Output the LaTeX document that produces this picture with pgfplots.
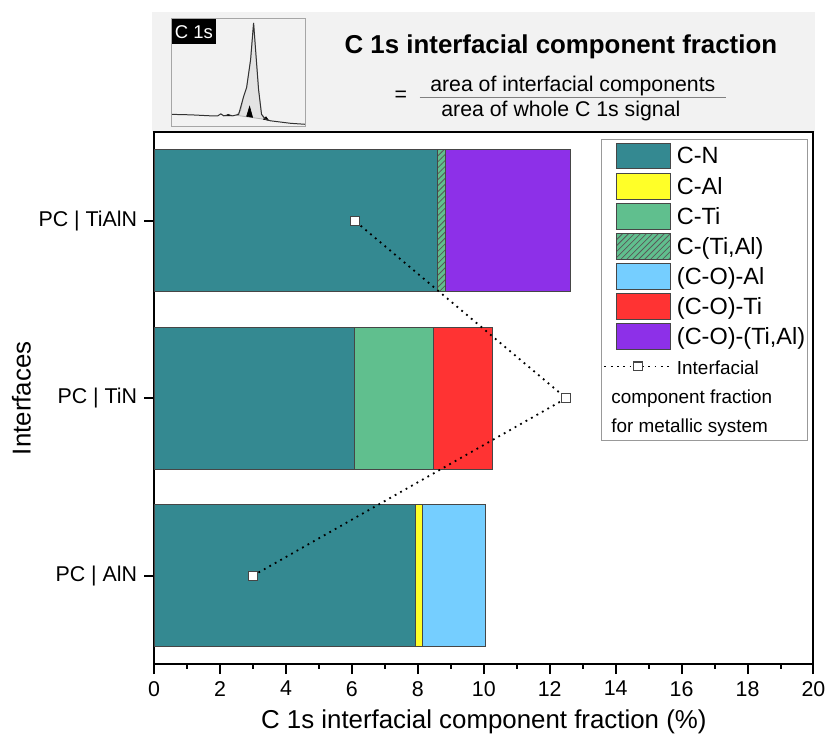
\documentclass[border=0pt]{standalone}
\usepackage{fontspec}
\setmainfont{Liberation Sans}
\usepackage{pgfplots}
\pgfplotsset{compat=1.18}
\usetikzlibrary{patterns}

\definecolor{cnTeal}{RGB}{52,137,145}
\definecolor{calYellow}{RGB}{255,255,40}
\definecolor{ctiGreen}{RGB}{96,191,142}
\definecolor{coalBlue}{RGB}{117,206,255}
\definecolor{cotiRed}{RGB}{255,51,51}
\definecolor{cotialPurple}{RGB}{141,48,232}
\definecolor{headerGray}{RGB}{242,242,242}
\definecolor{barEdge}{RGB}{70,70,70}

\pgfplotsset{
  patch legend/.style={legend image code/.code={%
    \draw[##1] (0pt,-6.5pt) rectangle (27pt,6.5pt);}},
  dotline legend/.style={legend image code/.code={%
    \draw[##1, mark repeat=2, mark phase=2]
      plot coordinates {(-6pt,0pt) (11pt,0pt) (27.5pt,0pt)};}},
  component bar/.style={fill=#1, draw=barEdge, line width=0.5pt, patch legend},
}
\newcommand{\smalllegend}{\fontsize{9.5}{11}\selectfont}

\begin{document}
\begin{tikzpicture}
% header panel, laid out in pixel-like units relative to the main axis
\begin{scope}[x=0.5pt, y=-0.5pt, shift={(-155,-668)}]
  \path (0,0) rectangle (832,747);
  \fill[headerGray] (153,12) rectangle (820,133);
  \node[font=\fontsize{13}{15}\selectfont\bfseries, anchor=base] at (564,53.5) {C 1s interfacial component fraction};
  \node[font=\fontsize{10.7}{12}\selectfont, anchor=base] at (403,102) {=};
  \node[font=\fontsize{10.7}{12}\selectfont, anchor=base] at (576,92) {area of interfacial components};
  \draw[gray, line width=0.6pt] (422,97.7) -- (730,97.7);
  \node[font=\fontsize{10.7}{12}\selectfont, anchor=base] at (564,117) {area of whole C 1s signal};
\end{scope}

% small C 1s spectrum sketch
\begin{axis}[
  at={(8.5pt,270.5pt)}, anchor=south west,
  scale only axis, width=67.5pt, height=54pt,
  xmin=0, xmax=135, ymin=0, ymax=108,
  ticks=none, clip=false, axis on top,
  axis line style={draw=gray!70, line width=0.5pt},
]
\addplot[fill=gray!22, draw=gray!60, line width=0.4pt] coordinates {
  (66,11) (70,16) (73,30) (76,39) (80,67) (83,104) (85,77) (88,37) (91,12) (94,7)} -- cycle;
\addplot[fill=black, draw=black, line width=0.3pt] coordinates {(76,10) (79,20) (82,9)} -- cycle;
\addplot[fill=black, draw=black, line width=0.3pt] coordinates {(93,7) (95.5,9.5) (98,6)} -- cycle;
\addplot[fill=black, draw=black, line width=0.3pt] coordinates {(55,10.5) (57.5,12) (60,10.5)} -- cycle;
\addplot[draw=gray!40!black, line width=0.5pt] coordinates {
  (0,12) (20,11.5) (40,10.5) (47,10.5) (50,12.5) (53,10.5) (58,11.5) (62,10.5)
  (68,12) (73,30) (76,39) (80,67) (83,104) (85,77) (88,37) (91,12) (95,7)
  (100,5.5) (120,3) (135,2)};
\node[fill=black, text=white, anchor=north west, inner sep=0pt,
      minimum width=22.5pt, minimum height=12.5pt,
      font=\fontsize{9.3}{10}\selectfont] at (rel axis cs:0,1) {C 1s};
\end{axis}

\begin{axis}[
  name=main,
  at={(0,0)}, anchor=south west,
  scale only axis, width=331.5pt, height=267.5pt,
  xbar stacked, bar width=0.8, reverse stacked plots=false,
  xmin=0, xmax=20, ymin=-0.5, ymax=2.5,
  xtick={0,2,...,20}, minor x tick num=1,
  ytick={0,1,2}, yticklabels={PC | AlN, PC | TiN, PC | TiAlN},
  xtick pos=bottom, ytick pos=left, tick align=outside,
  major tick length=5pt, minor tick length=2.2pt,
  every tick/.style={black, line width=1pt},
  axis line style={line width=1pt},
  /pgf/number format/assume math mode=true,
  tick label style={font=\fontsize{10.75}{12}\selectfont},
  label style={font=\fontsize{13}{15}\selectfont},
  xlabel={C 1s interfacial component fraction (\%)},
  ylabel={Interfaces},
  ylabel style={yshift=-3pt},
  legend style={
    at={(0.991,0.987)}, anchor=north east,
    draw=gray!80, fill=white,
    inner xsep=1pt, inner ysep=1.5pt,
    font=\fontsize{11.8}{13}\selectfont,
    row sep=1.65pt, column sep=2.5pt,
    nodes={inner sep=0pt, text height=10.5pt, text depth=2.5pt},
    cells={anchor=west},
  },
]
% categories: 0 = PC | AlN, 1 = PC | TiN, 2 = PC | TiAlN
\addplot[component bar=cnTeal] coordinates {(7.92,0) (6.09,1) (8.61,2)};
\addlegendentry{C-N}
\addplot[component bar=calYellow] coordinates {(0.21,0) (0,1) (0,2)};
\addlegendentry{C-Al}
\addplot[component bar=ctiGreen] coordinates {(0,0) (2.39,1) (0,2)};
\addlegendentry{C-Ti}
\addplot[component bar=ctiGreen, postaction={pattern=north east lines, pattern color=black!65}]
  coordinates {(0,0) (0,1) (0.24,2)};
\addlegendentry{C-(Ti,Al)}
\addplot[component bar=coalBlue] coordinates {(1.93,0) (0,1) (0,2)};
\addlegendentry{(C-O)-Al}
\addplot[component bar=cotiRed] coordinates {(0,0) (1.77,1) (0,2)};
\addlegendentry{(C-O)-Ti}
\addplot[component bar=cotialPurple] coordinates {(0,0) (0,1) (3.78,2)};
\addlegendentry{(C-O)-(Ti,Al)}
% interfacial component fraction of the metallic systems
\addplot[stack plots=false, sharp plot, black, line width=0.9pt,
  dash pattern=on 0.9pt off 2.25pt,
  mark=square*, mark size=2.25pt,
  mark options={solid, fill=white, draw=barEdge, line width=0.6pt},
  dotline legend]
  coordinates {(3.0,0) (12.5,1) (6.09,2)};
\addlegendentry{\smalllegend Interfacial}
\addlegendimage{empty legend}
\addlegendentry{\smalllegend\hspace*{-33pt}component fraction}
\addlegendimage{empty legend}
\addlegendentry{\smalllegend\hspace*{-33pt}for metallic system\rule[-6.5pt]{0pt}{0pt}}
\end{axis}
\end{tikzpicture}
\end{document}
